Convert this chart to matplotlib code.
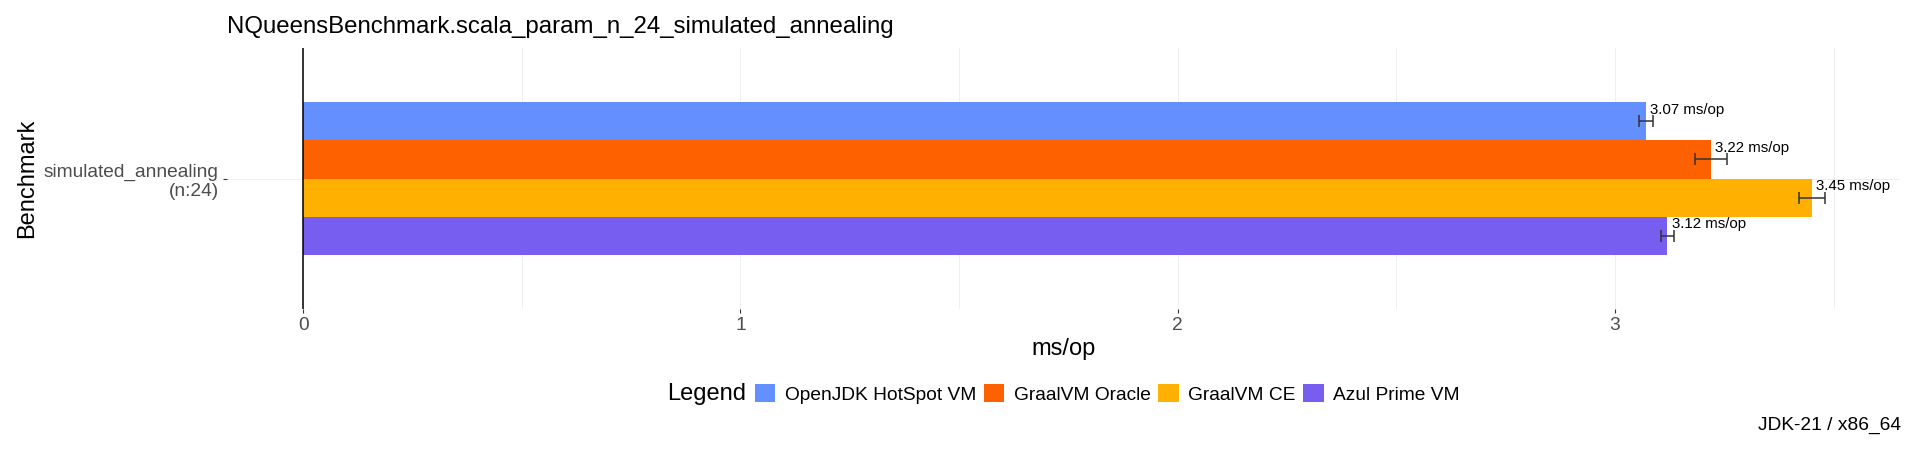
import numpy as np
import matplotlib.pyplot as plt

plt.rcParams['font.family'] = ['Liberation Sans', 'DejaVu Sans']

# Benchmark results (ms/op)
title = 'NQueensBenchmark.scala_param_n_24_simulated_annealing'
category = 'simulated_annealing\n(n:24)'
vms = ['OpenJDK HotSpot VM', 'GraalVM Oracle', 'GraalVM CE', 'Azul Prime VM']
scores = [3.07, 3.22, 3.45, 3.12]
err_low = [3.054, 3.184, 3.420, 3.106]
err_high = [3.088, 3.256, 3.480, 3.135]
colors = ['#648FFF', '#FE6100', '#FFB000', '#785EF0']

fig = plt.figure(figsize=(19.2, 4.54), dpi=100)
ax = fig.add_axes([227 / 1920, 1 - 309 / 454, (1901 - 227) / 1920, (309 - 48) / 454])

# dodged horizontal bars around the single category at y=0
n = len(vms)
bar_h = 0.9 / n
offsets = (np.arange(n) - (n - 1) / 2) * bar_h
for i in range(n):
    y = offsets[i]
    ax.barh(y, scores[i], height=bar_h, color=colors[i], label=vms[i], zorder=2)
    ax.errorbar(scores[i], y,
                xerr=[[scores[i] - err_low[i]], [err_high[i] - scores[i]]],
                fmt='none', ecolor='#333333', elinewidth=1.1, capsize=4, capthick=1.1, zorder=3)
    ax.annotate(f'{scores[i]:.2f} ms/op', xy=(scores[i], y), xytext=(3, 8),
                textcoords='offset points', ha='left', va='center', fontsize=10.8, zorder=4)

ax.axvline(0, color='black', linewidth=1.1, zorder=2)

# ggplot-like expansion of the x range
xmax = max(err_high)
pad = 0.05 * xmax
ax.set_xlim(-pad, xmax + pad)
ax.set_ylim(0.772, -0.772)

ax.set_xticks([0, 1, 2, 3])
ax.set_xticks([0.5, 1.5, 2.5, 3.5], minor=True)
ax.set_yticks([0])
ax.set_yticklabels([category], ha='right', multialignment='right')
ax.grid(True, which='both', axis='x', color='#EFEFEF', linewidth=0.7, zorder=0)
ax.grid(True, which='major', axis='y', color='#EFEFEF', linewidth=0.7, zorder=0)
ax.tick_params(axis='both', which='major', length=3, width=0.8, color='#333333',
               labelsize=13.8, labelcolor='#4D4D4D', pad=3)
ax.tick_params(axis='x', which='minor', length=0)
for s in ax.spines.values():
    s.set_visible(False)

ax.set_xlabel('ms/op', fontsize=17, labelpad=2.5)
fig.text(27 / 1920, 1 - 178 / 454, 'Benchmark', rotation=90, fontsize=17, ha='center', va='center')
fig.text(227 / 1920, 1 - 27 / 454, title, fontsize=17.3, ha='left', va='center')

fig.text(746 / 1920, 1 - 394 / 454, 'Legend', fontsize=17, ha='right', va='center')
fig.legend(loc='center left', bbox_to_anchor=(755 / 1920, 1 - 394 / 454), ncol=4,
           frameon=False, fontsize=13.75, handlelength=1.05, handleheight=1.05,
           handletextpad=0.5, columnspacing=0.42, borderpad=0, borderaxespad=0)

fig.text(1901 / 1920, 1 - 425 / 454, 'JDK-21 / x86_64', fontsize=13.8, ha='right', va='center')

fig.savefig('out.png', dpi=100)
